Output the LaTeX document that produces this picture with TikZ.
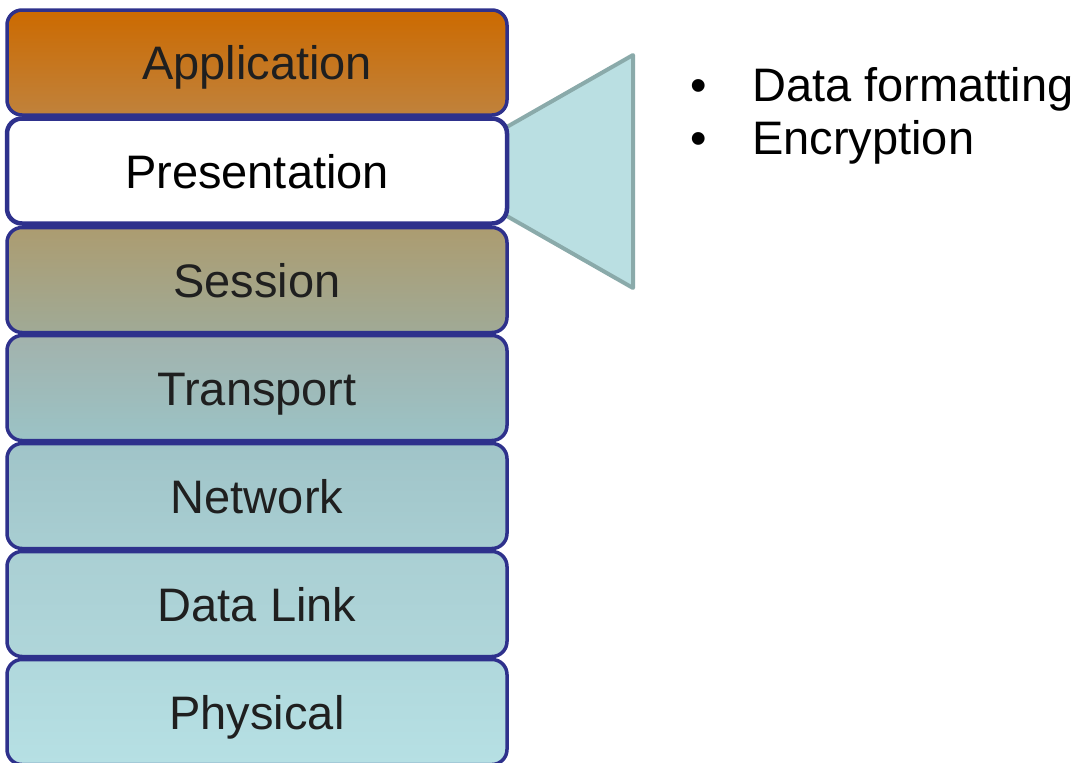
\documentclass[tikz,border=0pt]{standalone}
\usepackage{fontspec}
\setmainfont{Liberation Sans}
\begin{document}
\begin{tikzpicture}[x=1pt,y=-1pt,
  layer/.style={draw=layerline, line width=3.5pt, rounded corners=15pt,
    minimum width=500pt, minimum height=105pt, inner sep=0pt,
    text height=34pt, text depth=0pt,
    font=\fontsize{47}{56}\selectfont, text=black!88},
  callout/.style={fill=calloutfill, draw=calloutline, line width=4pt, line join=round},
  bullettext/.style={anchor=base west, inner sep=0pt, font=\fontsize{47}{53}\selectfont}]
\definecolor{layerline}{RGB}{46,49,140}
\definecolor{calloutfill}{RGB}{186,223,226}
\definecolor{calloutline}{RGB}{138,170,170}
\useasboundingbox (0,0) rectangle (1082,763);

% OSI stack
\node[layer, top color={rgb,255:red,204;green,106;blue,0},
  bottom color={rgb,255:red,192;green,130;blue,60}] (app) at (257,62.5) {Application};
\node[layer, top color={rgb,255:red,172;green,156;blue,112},
  bottom color={rgb,255:red,160;green,170;blue,150}] (ses) at (257,280) {Session};
\node[layer, top color={rgb,255:red,162;green,178;blue,172},
  bottom color={rgb,255:red,155;green,195;blue,198}] (tra) at (257,388) {Transport};
\node[layer, top color={rgb,255:red,160;green,196;blue,200},
  bottom color={rgb,255:red,168;green,206;blue,210}] (net) at (257,496) {Network};
\node[layer, top color={rgb,255:red,170;green,207;blue,211},
  bottom color={rgb,255:red,175;green,214;blue,218}] (dl) at (257,604) {Data Link};
\node[layer, top color={rgb,255:red,176;green,216;blue,220},
  bottom color={rgb,255:red,182;green,224;blue,228}] (phy) at (257,712) {Physical};

% callout from the presentation layer
\coordinate (ctl) at (505,128);
\coordinate (ctr) at (633,55);
\coordinate (cbr) at (633,288);
\coordinate (cbl) at (505,215);
\draw[callout] (ctl) -- (ctr) -- (cbr) -- (cbl) -- cycle;

\node[layer, fill=white, line width=4.5pt, text=black] (pres) at (257,171) {Presentation};

% bullet list
\node[bullettext] (b1) at (690,101) {•};
\node[bullettext] (t1) at (752,101) {Data formatting};
\node[bullettext] (b2) at (690,154) {•};
\node[bullettext] (t2) at (752,154) {Encryption};
\end{tikzpicture}
\end{document}
